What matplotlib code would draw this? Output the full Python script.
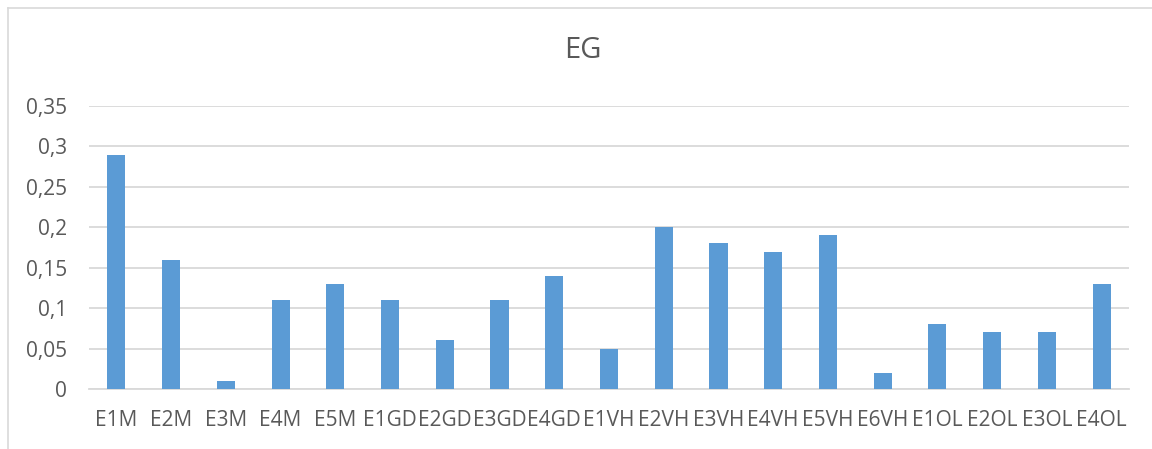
import matplotlib
matplotlib.use("Agg")
import matplotlib.pyplot as plt
from matplotlib.ticker import FuncFormatter, MultipleLocator
from matplotlib.lines import Line2D
import numpy as np

categories = ["E1M", "E2M", "E3M", "E4M", "E5M",
              "E1GD", "E2GD", "E3GD", "E4GD",
              "E1VH", "E2VH", "E3VH", "E4VH", "E5VH", "E6VH",
              "E1OL", "E2OL", "E3OL", "E4OL"]
values = [0.29, 0.16, 0.01, 0.11, 0.13,
          0.11, 0.06, 0.11, 0.14,
          0.05, 0.20, 0.18, 0.17, 0.19, 0.02,
          0.08, 0.07, 0.07, 0.13]
title = "EG"

plt.rcParams["font.family"] = ["Open Sans", "DejaVu Sans"]

fig = plt.figure(figsize=(11.52, 4.49), dpi=100)
ax = fig.add_axes([89 / 1152, 1 - 389 / 449, 1040 / 1152, 283 / 449])

x = np.arange(len(categories))
ax.bar(x, values, width=0.33, color="#5B9BD5", zorder=3)

ax.set_xlim(-0.5, len(categories) - 0.5)
ax.set_ylim(0, 0.35)
ax.yaxis.set_major_locator(MultipleLocator(0.05))
ax.yaxis.set_major_formatter(FuncFormatter(lambda v, p: f"{round(v, 2):g}".replace(".", ",")))
ax.grid(axis="y", color="#D9D9D9", linewidth=1.3, zorder=0)
ax.set_xticks(x)
ax.set_xticklabels(categories)

for s in ["top", "right", "left"]:
    ax.spines[s].set_visible(False)
ax.spines["bottom"].set_color("#D9D9D9")
ax.spines["bottom"].set_linewidth(1.3)

ax.tick_params(axis="both", length=0, labelsize=15, labelcolor="#595959")
ax.tick_params(axis="y", pad=16)
ax.tick_params(axis="x", pad=15)

fig.text(583 / 1152, 1 - 51 / 449, title, ha="center", va="center",
         fontsize=21, color="#595959")

# chart area border
fig.add_artist(Line2D([7.5 / 1152, 7.5 / 1152], [0, 1 - 7.5 / 449],
                      transform=fig.transFigure, color="#D9D9D9", linewidth=1.2))
fig.add_artist(Line2D([7.5 / 1152, 1], [1 - 7.5 / 449, 1 - 7.5 / 449],
                      transform=fig.transFigure, color="#D9D9D9", linewidth=1.2))

fig.savefig("out.png", dpi=100, facecolor="white")
